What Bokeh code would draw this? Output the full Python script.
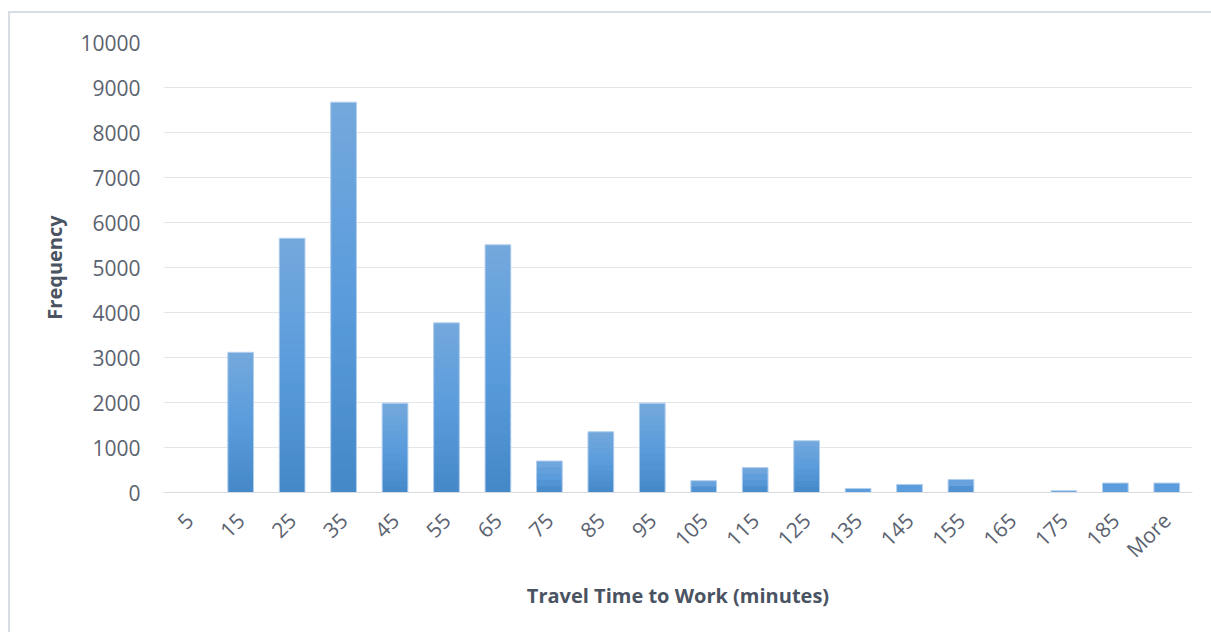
import math
from bokeh.plotting import figure
from bokeh.models import ColumnDataSource, FactorRange, FixedTicker, InlineStyleSheet
from bokeh.embed import file_html
from bokeh.resources import INLINE

# Histogram bins (upper bin edge, minutes) and counts
bins = ["5", "15", "25", "35", "45", "55", "65", "75", "85", "95",
        "105", "115", "125", "135", "145", "155", "165", "175", "185", "More"]
frequency = [0, 3115, 5650, 8675, 1985, 3770, 5505, 700, 1350, 1985,
             262, 553, 1150, 90, 180, 290, 0, 38, 210, 210]
y_ticks = list(range(0, 10001, 1000))

TEXT = "#5b6270"
TITLE = "#4a5362"
FONT = "Open Sans"


def mix(c1, c2, t):
    a = [int(c1[i:i + 2], 16) for i in (1, 3, 5)]
    b = [int(c2[i:i + 2], 16) for i in (1, 3, 5)]
    return "#" + "".join(f"{round(x + (y - x) * t):02x}" for x, y in zip(a, b))


def shade(t):
    # t = 0 at bar bottom, 1 at bar top
    bottom, middle, top = "#4588c8", "#5a9cdc", "#74a8dc"
    return mix(bottom, middle, t / 0.5) if t < 0.5 else mix(middle, top, (t - 0.5) / 0.5)


# Each bar is filled as a stack of slightly overlapping bands to get a
# vertical gradient; short bars use fewer bands so no seams show
bx, bb, bt, bc = [], [], [], []
for cat, v in zip(bins, frequency):
    if v <= 0:
        continue
    bands = max(1, min(30, int(v / 120)))
    for k in range(bands):
        bx.append(cat)
        bb.append(v * k / bands)
        bt.append(min(v, v * (k + 1.6) / bands))
        bc.append(shade((k + 0.5) / bands))
band_src = ColumnDataSource(dict(x=bx, bottom=bb, top=bt, color=bc))
bar_src = ColumnDataSource(dict(x=bins, top=frequency))

p = figure(x_range=FactorRange(*bins), y_range=(0, 10000),
           frame_width=1029, frame_height=450,
           min_border_left=163, min_border_right=19,
           min_border_top=42, min_border_bottom=140,
           output_backend="svg", toolbar_location=None,
           background_fill_color="white", border_fill_color="white")
p.outline_line_color = None

# light border around the chart area
p.stylesheets = [InlineStyleSheet(css="""
:host::after {
  content: "";
  position: absolute;
  left: 8px; top: 11px; right: 0; bottom: 0;
  border-left: 2px solid #d9dde5;
  border-top: 2px solid #d9dde5;
  pointer-events: none;
}
""")]

p.vbar(x="x", bottom="bottom", top="top", width=0.5, source=band_src,
       fill_color="color", line_color=None)
p.vbar(x="x", top="top", width=0.5, source=bar_src,
       fill_color=None, line_color="#b3cfee", line_width=1)

p.yaxis.ticker = FixedTicker(ticks=y_ticks)
p.ygrid.grid_line_color = "#e2e5ea"
p.ygrid.grid_line_width = 1
p.xgrid.grid_line_color = None

for ax in (p.xaxis, p.yaxis):
    ax.major_tick_line_color = None
    ax.minor_tick_line_color = None
    ax.major_label_text_font = FONT
    ax.major_label_text_font_size = "21px"
    ax.major_label_text_color = TEXT
    ax.axis_label_text_font = FONT
    ax.axis_label_text_font_size = "20px"
    ax.axis_label_text_font_style = "bold"
    ax.axis_label_text_color = TITLE

p.yaxis.axis_line_color = None
p.yaxis.major_label_standoff = 17
p.yaxis.axis_label = "Frequency"
p.yaxis.axis_label_standoff = 9

p.xaxis.axis_line_color = "#d9dde3"
p.xaxis.major_label_orientation = math.pi / 4
p.xaxis.major_label_standoff = 18
p.xaxis.axis_label = "Travel Time to Work (minutes)"
p.xaxis.axis_label_standoff = 6

open("out.html", "w").write(file_html(p, INLINE))
